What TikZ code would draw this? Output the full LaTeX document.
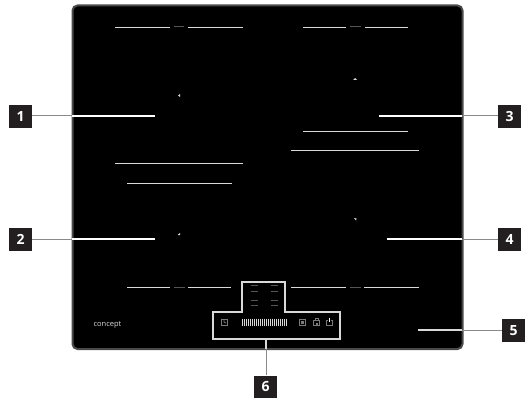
\documentclass[tikz,border=0pt]{standalone}
\usepackage{fontspec}
\setsansfont{Open Sans}
\definecolor{hobrim}{HTML}{4A4A4C}
\definecolor{tagink}{HTML}{231F20}
\definecolor{leadgrey}{HTML}{8A8A8A}
\definecolor{markline}{HTML}{D9D9D9}
\definecolor{panelicon}{HTML}{7A7A7A}

\begin{document}
\begin{tikzpicture}[x=1pt, y=-1pt,
                    tag/.style={fill=tagink, text=white, minimum size=23pt, inner sep=0pt,
                                font=\sffamily\bfseries\fontsize{14}{14}\selectfont},
                    zoneline/.style={markline, line width=0.8pt},
                    zonemark/.style={panelicon!70!black, line width=1pt},
                    leadout/.style={leadgrey, line width=1pt},
                    leadin/.style={white, line width=1.1pt},
                    icon/.style={panelicon, line width=0.7pt}]

  \useasboundingbox (0,0) rectangle (529,398);
  \fill[white] (0,0) rectangle (529,398);

  %% hob glass
  \draw[hobrim, line width=2pt, fill=black, rounded corners=5pt] (72.5,5.5) rectangle (462.5,349);

  %% cooking zone marks, top
  \draw[zoneline] (115,27) -- (170,27);
  \draw[zonemark] (174,27) -- (184,27);
  \draw[zoneline] (188,27) -- (243,27);
  \draw[zoneline] (303,27) -- (346,27);
  \draw[zonemark] (350,27) -- (361,27);
  \draw[zoneline] (365,27) -- (408,27);

  %% cooking zone marks, middle
  \draw[zoneline] (115,163) -- (243,163);
  \draw[zoneline] (127,183) -- (232,183);
  \draw[zoneline] (303,131) -- (408,131);
  \draw[zoneline] (291,150) -- (419,150);

  %% cooking zone marks, bottom
  \draw[zoneline] (127,287) -- (170,287);
  \draw[zonemark] (174,287) -- (185,287);
  \draw[zoneline] (188,287) -- (231,287);
  \draw[zoneline] (291,287) -- (346,287);
  \draw[zonemark] (350,287) -- (361,287);
  \draw[zoneline] (364,287) -- (419,287);

  %% zone centres
  \fill[markline] (178,95.5) -- (180,94) -- (180,97) -- cycle;
  \fill[markline] (355,78) -- (357,80) -- (353,80) -- cycle;
  \fill[markline] (180,233) -- (180,235) -- (177.5,235) -- cycle;
  \fill[markline] (354,218) -- (356.5,218.5) -- (356,220.5) -- cycle;

  %% control panel
  \draw[markline, line width=1.2pt] (242,282) -- (285,282) -- (285,312) -- (340,312)
    -- (340,339) -- (213,339) -- (213,312) -- (242,312) -- cycle;

  \foreach \zx in {254.5,274.5} {
    \draw[zonemark] (\zx-3.5,285) -- (\zx+3.5,285);
    \draw[zonemark] (\zx-3.5,291) -- (\zx+3.5,291);
    \draw[zonemark] (\zx-3.5,300) -- (\zx+3.5,300);
    \draw[zonemark] (\zx-3.5,305.5) -- (\zx+3.5,305.5);
  }

  \foreach \bx in {0,...,22} {
    \draw[markline, line width=1pt] (242.5+2*\bx,318.5) -- (242.5+2*\bx,325.5);
  }

  %% panel icons
  \draw[icon] (221.5,319) rectangle (227,325);
  \draw[icon] (224,320) -- (224,322) -- (226,323);
  \draw[icon] (299.5,319) rectangle (305,325);
  \fill[panelicon] (301,320.5) rectangle (303.5,323.5);
  \draw[icon] (313.5,320) rectangle (319.5,325.5);
  \fill[panelicon] (315.5,322.5) rectangle (317.5,324.5);
  \draw[icon] (315,320) -- (315,318.5) -- (318,318.5) -- (318,320);
  \draw[icon] (328,320) -- (326.5,320) -- (326.5,325.5) -- (332.5,325.5) -- (332.5,320) -- (331,320);
  \draw[white, line width=0.8pt] (329.5,317.5) -- (329.5,322);

  \node[text=markline, font=\sffamily\fontsize{7.5}{7.5}\selectfont, inner sep=0pt] (brand) at (107.5,325) {concept};

  %% callouts
  \node[tag] (tagone) at (20.5,116.5) {1};
  \node[tag] (tagtwo) at (20.5,239.5) {2};
  \node[tag] (tagthree) at (509.5,116.5) {3};
  \node[tag] (tagfour) at (509.5,239.5) {4};
  \node[tag] (tagfive) at (513.5,330.5) {5};
  \node[tag] (tagsix) at (265.5,387) {6};

  \coordinate (rimone) at (72,116);
  \coordinate (rimtwo) at (72,239);
  \coordinate (rimthree) at (462,116);
  \coordinate (rimfour) at (462,239);
  \coordinate (rimfive) at (462,330);
  \coordinate (rimsix) at (266,349);

  \coordinate (endone) at (155,116);
  \coordinate (endtwo) at (155,239);
  \coordinate (endthree) at (379,116);
  \coordinate (endfour) at (387,239);
  \coordinate (endfive) at (418,330);
  \coordinate (endsix) at (266,339.5);

  \draw[leadout] (tagone.east |- rimone) -- (rimone);
  \draw[leadin] (rimone) -- (endone);
  \draw[leadout] (tagtwo.east |- rimtwo) -- (rimtwo);
  \draw[leadin] (rimtwo) -- (endtwo);
  \draw[leadout] (tagthree.west |- rimthree) -- (rimthree);
  \draw[leadin] (rimthree) -- (endthree);
  \draw[leadout] (tagfour.west |- rimfour) -- (rimfour);
  \draw[leadin] (rimfour) -- (endfour);
  \draw[leadout] (tagfive.west |- rimfive) -- (rimfive);
  \draw[leadin, markline] (rimfive) -- (endfive);
  \draw[leadout] (rimsix |- tagsix.north) -- (rimsix);
  \draw[leadin, markline] (rimsix) -- (endsix);

\end{tikzpicture}
\end{document}
